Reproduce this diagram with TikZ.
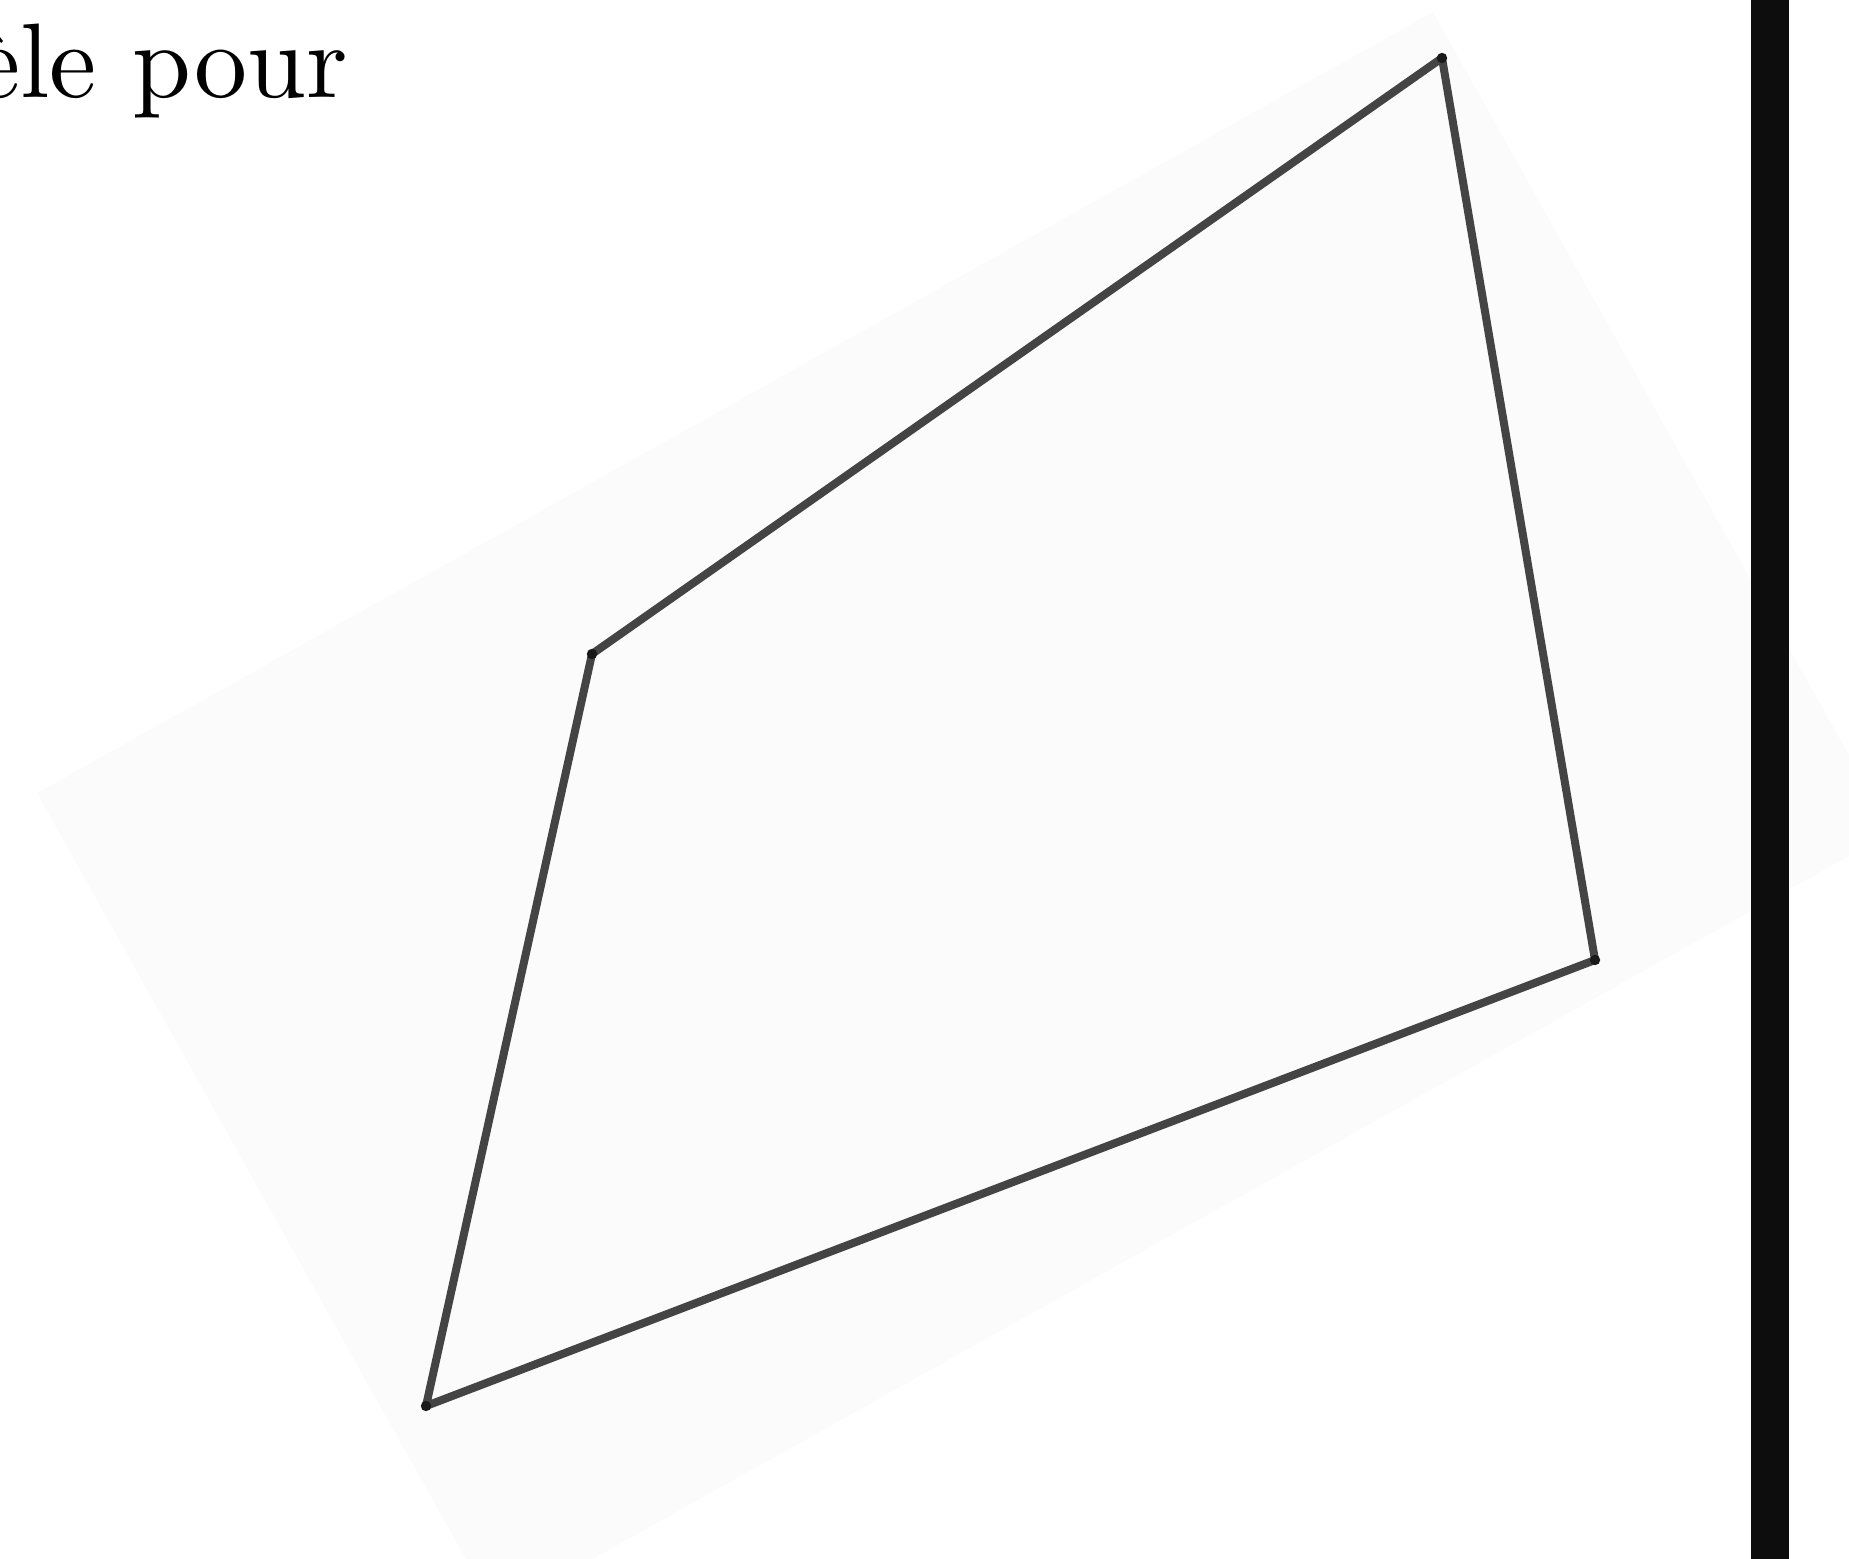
\documentclass[tikz,border=0pt]{standalone}
\usepackage{fontspec}
\newfontfamily\tenrm{lmroman10-regular}[Extension=.otf]
\usepackage{tikz}
\usetikzlibrary{calc}
\definecolor{sheet}{HTML}{FBFBFB}
\definecolor{edgegrey}{HTML}{444444}
\definecolor{bar}{HTML}{0D0D0D}
\begin{document}
\begin{tikzpicture}[x=0.5pt,y=-0.5pt,
edge/.style={draw=edgegrey,line width=4pt,line join=round},
vtx/.style={fill=black!90},
caption/.style={inner sep=0pt,anchor=base east,font=\tenrm\fontsize{53}{60}\selectfont}]
\useasboundingbox (0,0) rectangle (1849,1559);
\clip (0,0) rectangle (1849,1559);
% tilted sheet behind the figure
\fill[sheet] (37,793)--(1433,12)--(1892,832)--(496,1613)--cycle;
\node[caption](cap) at (348,97){èle pour};
\coordinate (A) at (592,654);\coordinate (B) at (1442,58);
\coordinate (C) at (1595,960);\coordinate (D) at (426,1406);
\draw[edge](A)--(B)--(C)--(D)--cycle;
\foreach \p in {A,B,C,D}{\fill[vtx](\p) circle (2.6pt);}
\fill[bar] (1751,0) rectangle (1789,1559);
\end{tikzpicture}
\end{document}
